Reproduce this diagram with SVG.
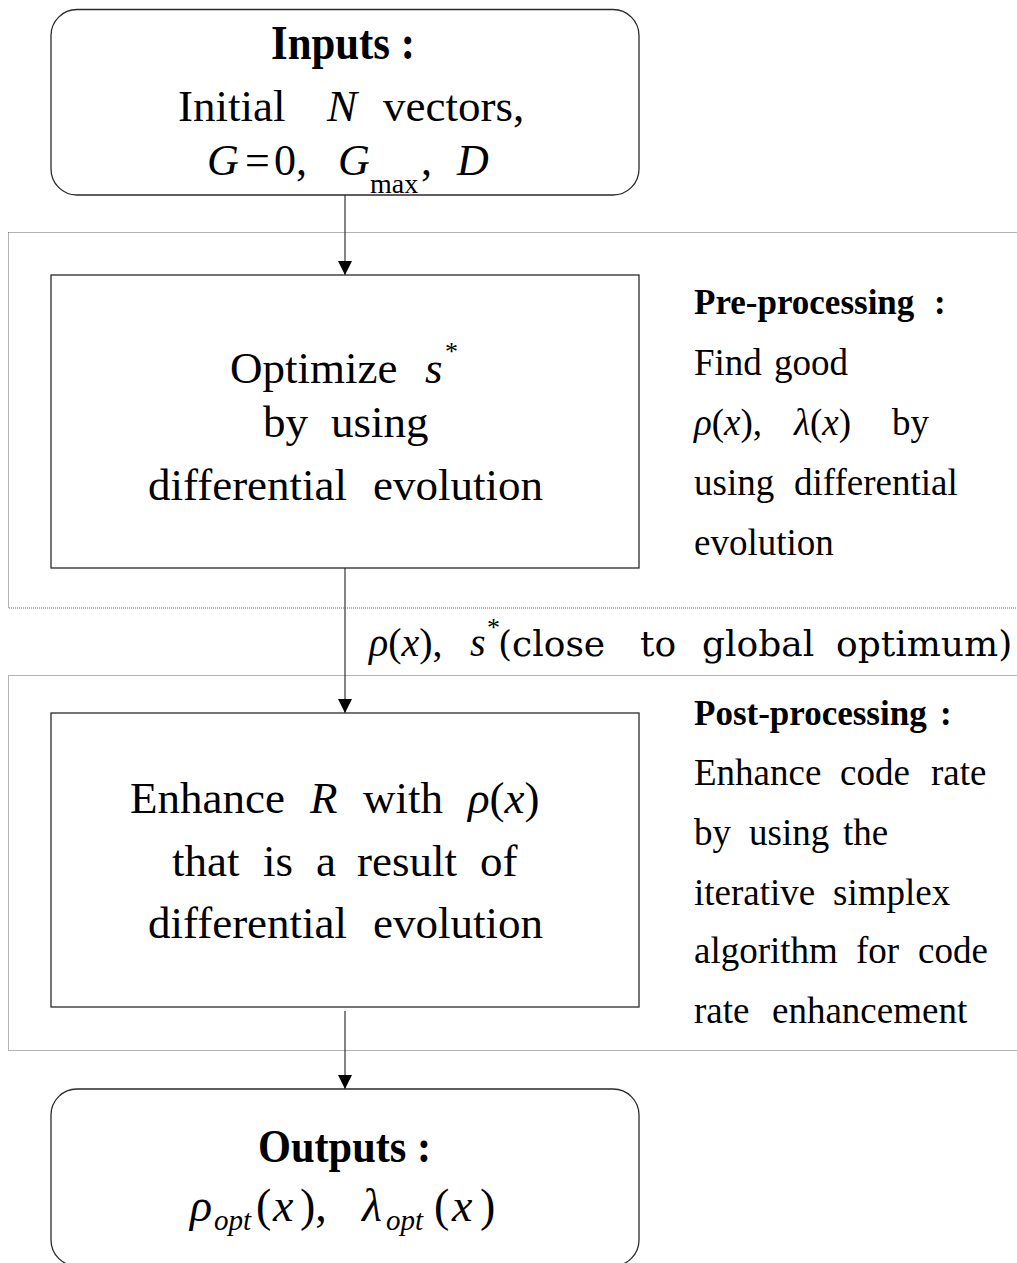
<svg xmlns="http://www.w3.org/2000/svg" width="1017" height="1263" viewBox="0 0 1017 1263">
  <style>
    .box { fill: #ffffff; stroke: #2a2a2a; stroke-width: 1.3; }
    .group { fill: none; stroke: #666666; stroke-width: 1; stroke-dasharray: 1 1; }
    .conn { fill: none; stroke: #333333; stroke-width: 1.2; }
    .t { font-family: "Liberation Serif", "Times New Roman", "DejaVu Serif", serif; font-weight: normal; font-style: normal; fill: #000000; }
    .big { font-size: 45px; }
    .side { font-size: 37px; }
    .b { font-weight: bold; }
    .i { font-style: italic; }
    .mono { font-family: "DejaVu Serif", "Liberation Serif", serif; }
  </style>
  <defs>
    <marker id="arr" viewBox="0 0 14 14" refX="14" refY="7" markerWidth="14" markerHeight="14" markerUnits="userSpaceOnUse" orient="auto">
      <path d="M0,0 L14,7 L0,14 z" fill="#000000"/>
    </marker>
  </defs>

  <!-- group frames -->
  <g id="preprocessing-frame">
    <rect class="group" x="8.5" y="232.5" width="1030" height="375.5"/>
  </g>
  <g id="postprocessing-frame">
    <rect class="group" x="8.5" y="675.5" width="1030" height="375"/>
  </g>

  <!-- connectors -->
  <g id="connectors">
    <line class="conn" x1="345" y1="195" x2="345" y2="275" marker-end="url(#arr)"/>
    <line class="conn" x1="345" y1="568" x2="345" y2="713" marker-end="url(#arr)"/>
    <line class="conn" x1="345" y1="1011" x2="345" y2="1089" marker-end="url(#arr)"/>
    <text class="t" y="656" font-size="40">
      <tspan x="369" class="i">ρ</tspan><tspan>(</tspan><tspan class="i">x</tspan><tspan>),</tspan>
      <tspan x="470" class="i">s</tspan>
    </text>
    <text class="t" x="487" y="636" font-size="26">*</text>
    <text class="t mono" y="656" font-size="36">
      <tspan x="498">(close</tspan><tspan x="640">to</tspan><tspan x="702">global</tspan><tspan x="836">optimum)</tspan>
    </text>
  </g>

  <!-- Inputs node -->
  <g id="inputs">
    <rect class="box" x="51" y="9.5" width="588" height="185.5" rx="26" ry="26"/>
    <text class="t b" x="271" y="59" font-size="48" textLength="144" lengthAdjust="spacingAndGlyphs">Inputs :</text>
    <text class="t big" y="121">
      <tspan x="178">Initial</tspan><tspan x="327" class="i">N</tspan><tspan x="383">vectors,</tspan>
    </text>
    <text class="t" y="175" font-size="44">
      <tspan x="207" class="i">G</tspan><tspan x="245">=</tspan><tspan x="274">0,</tspan><tspan x="338" class="i">G</tspan><tspan x="421">,</tspan><tspan x="457" class="i">D</tspan>
    </text>
    <text class="t" x="370" y="193" font-size="28">max</text>
  </g>

  <!-- Optimize node -->
  <g id="optimize">
    <rect class="box" x="51" y="275" width="588" height="293"/>
    <text class="t big" y="383">
      <tspan x="230">Optimize</tspan><tspan x="425" class="i">s</tspan>
    </text>
    <text class="t" x="445" y="360" font-size="26">*</text>
    <text class="t big" y="437">
      <tspan x="263">by</tspan><tspan x="331">using</tspan>
    </text>
    <text class="t big" y="500">
      <tspan x="148">differential</tspan><tspan x="373">evolution</tspan>
    </text>
  </g>

  <!-- Pre-processing note -->
  <g id="preprocessing-note">
    <text class="t b" y="314" font-size="35"><tspan x="694">Pre-processing</tspan><tspan x="934">:</tspan></text>
    <text class="t side" y="375"><tspan x="694">Find</tspan><tspan x="774">good</tspan></text>
    <text class="t side" y="435">
      <tspan x="694" class="i">ρ</tspan><tspan>(</tspan><tspan class="i">x</tspan><tspan>),</tspan>
      <tspan x="794" class="i">λ</tspan><tspan>(</tspan><tspan class="i">x</tspan><tspan>)</tspan>
      <tspan x="892">by</tspan>
    </text>
    <text class="t side" y="495"><tspan x="694">using</tspan><tspan x="794">differential</tspan></text>
    <text class="t side" y="555"><tspan x="694">evolution</tspan></text>
  </g>

  <!-- Enhance node -->
  <g id="enhance">
    <rect class="box" x="51" y="713" width="588" height="294"/>
    <text class="t big" y="813">
      <tspan x="130">Enhance</tspan><tspan x="310" class="i">R</tspan><tspan x="363">with</tspan><tspan x="468" class="i">ρ</tspan><tspan>(</tspan><tspan class="i">x</tspan><tspan>)</tspan>
    </text>
    <text class="t big" y="876">
      <tspan x="172">that</tspan><tspan x="263">is</tspan><tspan x="316">a</tspan><tspan x="357">result</tspan><tspan x="480">of</tspan>
    </text>
    <text class="t big" y="938">
      <tspan x="148">differential</tspan><tspan x="373">evolution</tspan>
    </text>
  </g>

  <!-- Post-processing note -->
  <g id="postprocessing-note">
    <text class="t b" y="725" font-size="35"><tspan x="694">Post-processing</tspan><tspan x="940">:</tspan></text>
    <text class="t side" y="785"><tspan x="694">Enhance</tspan><tspan x="840">code</tspan><tspan x="931">rate</tspan></text>
    <text class="t side" y="845"><tspan x="694">by</tspan><tspan x="749">using</tspan><tspan x="843">the</tspan></text>
    <text class="t side" y="905"><tspan x="694">iterative</tspan><tspan x="833">simplex</tspan></text>
    <text class="t side" y="963"><tspan x="694">algorithm</tspan><tspan x="856">for</tspan><tspan x="918">code</tspan></text>
    <text class="t side" y="1023"><tspan x="694">rate</tspan><tspan x="772">enhancement</tspan></text>
  </g>

  <!-- Outputs node -->
  <g id="outputs">
    <rect class="box" x="51" y="1089" width="588" height="177" rx="26" ry="26"/>
    <text class="t b" x="258" y="1162" font-size="46" textLength="173" lengthAdjust="spacingAndGlyphs">Outputs :</text>
    <text class="t" y="1221" font-size="46">
      <tspan x="190" class="i">ρ</tspan><tspan x="256">(</tspan><tspan x="273" class="i">x</tspan><tspan x="300">),</tspan>
      <tspan x="362" class="i">λ</tspan><tspan x="434">(</tspan><tspan x="452" class="i">x</tspan><tspan x="480">)</tspan>
    </text>
    <text class="t i" y="1230" font-size="29"><tspan x="214">opt</tspan><tspan x="386">opt</tspan></text>
  </g>
</svg>
